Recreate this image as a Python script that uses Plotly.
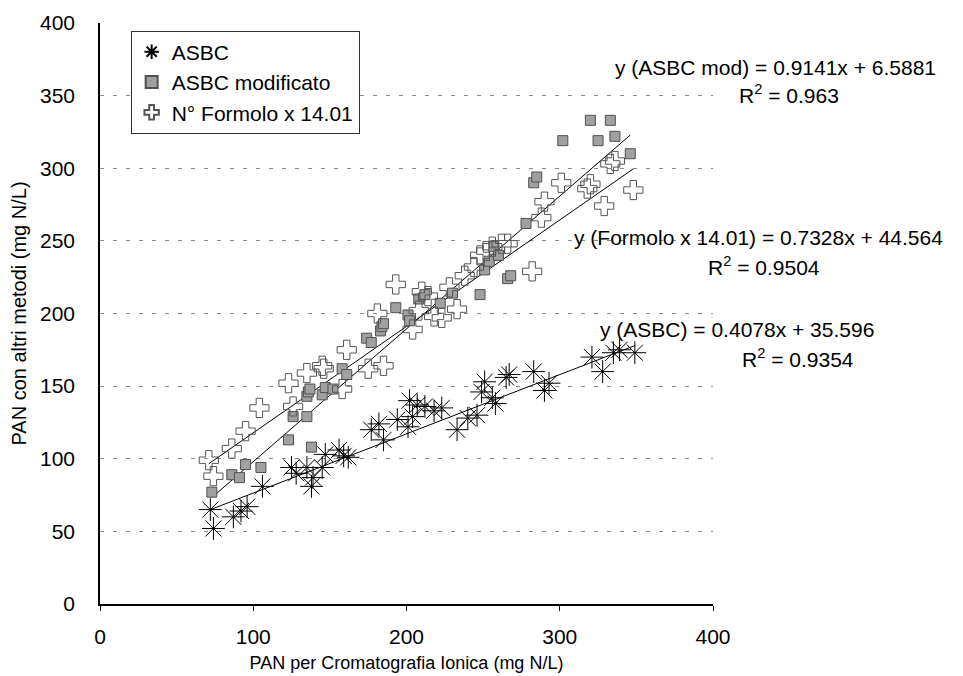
import plotly.graph_objects as go

# ---- data ----
asbc_x = [72, 74, 87, 92, 96, 106, 125, 128, 135, 138, 139, 145, 147, 156, 159, 162,
          177, 182, 185, 194, 201, 202, 204, 207, 212, 218, 223, 233, 240, 246, 249,
          251, 256, 258, 265, 267, 283, 290, 293, 321, 328, 335, 339, 349]
asbc_y = [65, 52, 60, 64, 67, 81, 94, 90, 94, 81, 87, 94, 103, 106, 102, 101,
          120, 124, 113, 127, 122, 140, 129, 137, 136, 133, 135, 120, 128, 130, 146,
          153, 142, 138, 156, 158, 160, 147, 152, 170, 160, 173, 175, 173]

mod_x = [73, 86, 91, 95, 105, 123, 126, 135, 138, 135, 136, 145, 147, 137, 152, 158,
         161, 174, 177, 183, 184, 185, 193, 201, 202, 208, 212, 222, 230, 248, 251,
         254, 257, 260, 266, 268, 278, 283, 285, 302, 320, 325, 333, 336, 346]
mod_y = [77, 89, 87, 96, 94, 113, 129, 129, 108, 143, 146, 144, 149, 148, 148, 162,
         158, 183, 180, 188, 191, 193, 204, 199, 195, 210, 213, 207, 214, 213, 230,
         236, 246, 240, 224, 226, 262, 290, 294, 319, 333, 319, 333, 322, 310]

form_x = [71, 74, 86, 95, 104, 123, 126, 135, 145, 146, 158, 161, 175, 181, 185, 193,
          204, 208, 210, 214, 218, 223, 228, 233, 238, 244, 248, 252, 256, 262, 266,
          282, 288, 290, 301, 318, 320, 329, 333, 336, 348]
form_y = [99, 88, 107, 119, 135, 152, 136, 159, 164, 162, 148, 175, 162, 200, 164, 220,
          189, 202, 215, 212, 198, 197, 218, 203, 226, 232, 240, 243, 246, 248, 248,
          229, 266, 277, 290, 286, 289, 274, 303, 305, 285]

series_names = ["ASBC", "ASBC modificato", "N° Formolo x 14.01"]
fit_slopes = [0.4078, 0.9141, 0.7328]
fit_intercepts = [35.596, 6.5881, 44.564]
fit_labels = ["y (ASBC) = 0.4078x + 35.596",
              "y (ASBC mod) = 0.9141x + 6.5881",
              "y (Formolo x 14.01) = 0.7328x + 44.564"]
r2_labels = ["R<sup>2</sup> = 0.9354", "R<sup>2</sup> = 0.963", "R<sup>2</sup> = 0.9504"]

x_ticks = [0, 100, 200, 300, 400]
y_ticks = [0, 50, 100, 150, 200, 250, 300, 350, 400]

FONT = "Liberation Sans, Arial, sans-serif"
FS = 21

fig = go.Figure()

xs = [asbc_x, mod_x, form_x]
ys = [asbc_y, mod_y, form_y]

# trend lines
for i in range(3):
    x0, x1 = min(xs[i]), max(xs[i])
    fig.add_trace(go.Scatter(
        x=[x0, x1],
        y=[fit_slopes[i] * x0 + fit_intercepts[i], fit_slopes[i] * x1 + fit_intercepts[i]],
        mode="lines", line=dict(color="black", width=1), showlegend=False,
        hoverinfo="skip"))

fig.add_trace(go.Scatter(
    x=asbc_x, y=asbc_y, mode="markers", name=series_names[0], legendgroup="a",
    marker=dict(symbol="asterisk-open", size=19, color="black",
                line=dict(color="black", width=1))))
fig.add_trace(go.Scatter(
    x=mod_x, y=mod_y, mode="markers", name=series_names[1], legendgroup="b",
    marker=dict(symbol="square", size=10, color="#a0a0a0",
                line=dict(color="#505050", width=1))))
fig.add_trace(go.Scatter(
    x=form_x, y=form_y, mode="markers", name=series_names[2], legendgroup="c",
    marker=dict(symbol="cross-open", size=16, color="#555555",
                line=dict(color="#555555", width=1))))

ann_pos = [  # (x paper, y paper) for equation and R2 of each series
    ((0.812, 0.473), (1.044, 0.423)),
    ((0.837, 0.924), (1.039, 0.878)),
    ((0.770, 0.630), (0.989, 0.582)),
]
for i in range(3):
    (ex, ey), (rx, ry) = ann_pos[i]
    fig.add_annotation(x=ex, y=ey, xref="paper", yref="paper", text=fit_labels[i],
                       showarrow=False, xanchor="left", yanchor="middle",
                       font=dict(size=FS, color="black", family=FONT))
    fig.add_annotation(x=rx, y=ry, xref="paper", yref="paper", text=r2_labels[i],
                       showarrow=False, xanchor="left", yanchor="middle",
                       font=dict(size=FS, color="black", family=FONT))

fig.update_layout(
    width=963, height=676,
    margin=dict(l=92, r=258, t=15, b=80),
    paper_bgcolor="white", plot_bgcolor="white",
    font=dict(family=FONT, size=FS, color="black"),
    legend=dict(x=0.05, y=0.987, xanchor="left", yanchor="top",
                bordercolor="#333333", borderwidth=1, bgcolor="white",
                font=dict(size=FS, family=FONT), tracegroupgap=0,
                itemsizing="constant", itemwidth=30),
    xaxis=dict(range=[0, 400], tickvals=x_ticks, showgrid=False, zeroline=False,
               showline=True, linecolor="black", linewidth=1.5,
               ticks="outside", ticklen=5, tickcolor="black",
               ticklabelstandoff=8, automargin=False,
               title=dict(text="PAN per Cromatografia Ionica (mg N/L)", standoff=9,
                          font=dict(size=18))),
    yaxis=dict(range=[0, 400], tickvals=y_ticks, showgrid=True,
               gridcolor="#8a8a8a", griddash="4px,9px", gridwidth=1,
               zeroline=False, showline=True, linecolor="black", linewidth=1.5,
               ticks="", ticklabelstandoff=19, automargin=False,
               title=dict(text="PAN con altri metodi (mg N/L)", standoff=8,
                          font=dict(size=20))),
)

fig.write_html("out.html")
